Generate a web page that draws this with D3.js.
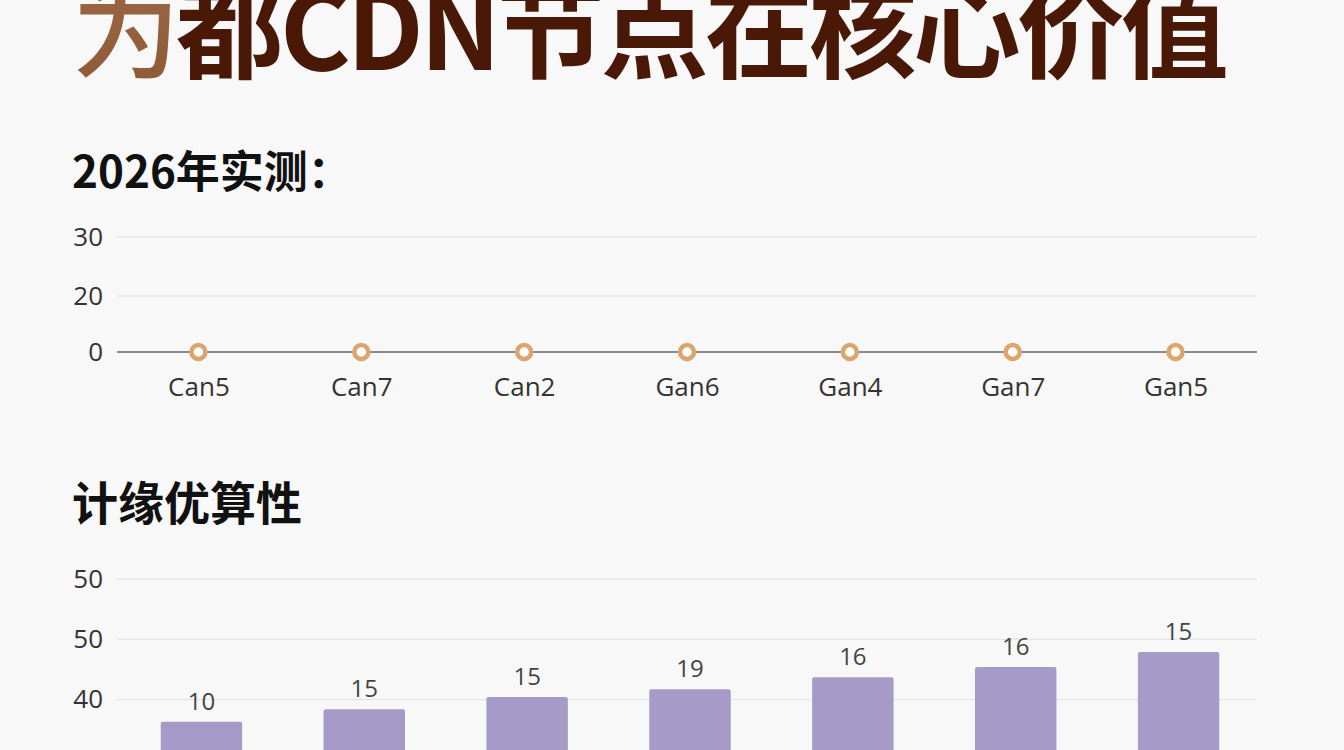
<!DOCTYPE html>
<html>
<head>
<meta charset="utf-8">
<script src="https://cdn.jsdelivr.net/npm/d3@7"></script>
<style>
  html, body { margin: 0; padding: 0; background: #f8f8f8; overflow: hidden; }
  svg { display: block; }
</style>
</head>
<body>
<div id="wrapper"></div>
<script>
// data
const titleHead = "为";
const titleRest = "都CDN节点在核心价值";
const lineTitle = "2026年实测：";
const barTitle = "计缘优算性";

const sites = ["Can5", "Can7", "Can2", "Gan6", "Gan4", "Gan7", "Gan5"];
const measured = [0, 0, 0, 0, 0, 0, 0];
const lineTicks = [0, 20, 30];

const barValues = [36.3, 38.4, 40.4, 41.7, 43.7, 45.4, 47.9];
const barLabels = ["10", "15", "15", "19", "16", "16", "15"];
const barTicks = [40, 50, 60];
const barTickLabels = ["40", "50", "50"];

const width = 1344, height = 750;
const left = 117, right = 1257;

const svg = d3.select("#wrapper").append("svg")
  .attr("width", width)
  .attr("height", height);

const defs = svg.append("defs");
const grad = defs.append("linearGradient").attr("id", "headGrad")
  .attr("x1", 0).attr("y1", 0).attr("x2", 1).attr("y2", 1);
grad.append("stop").attr("offset", "0%").attr("stop-color", "#a06a45");
grad.append("stop").attr("offset", "100%").attr("stop-color", "#7a4a2c");

// title
const title = svg.append("text")
  .attr("x", 72)
  .attr("y", 70)
  .attr("font-family", "'Noto Sans CJK SC', 'Noto Sans', sans-serif")
  .attr("font-size", 108)
  .attr("font-weight", 700)
  .attr("letter-spacing", -4);
title.append("tspan").attr("fill", "url(#headGrad)").attr("font-weight", 500).text(titleHead);
title.append("tspan").attr("fill", "#4a1806").text(titleRest);

const subFont = "'Noto Sans CJK SC', sans-serif";

svg.append("text")
  .attr("x", 72).attr("y", 188)
  .attr("font-family", subFont)
  .attr("font-size", 44)
  .attr("font-weight", 700)
  .attr("fill", "#111")
  .text(lineTitle);

svg.append("text")
  .attr("x", 72).attr("y", 520)
  .attr("font-family", subFont)
  .attr("font-size", 46)
  .attr("font-weight", 700)
  .attr("fill", "#111")
  .text(barTitle);

const labelFont = "'Open Sans', 'Noto Sans', sans-serif";

// line chart
const xScale = d3.scalePoint().domain(sites).range([left, right]).padding(0.5);
const yLine = d3.scaleLinear().domain([0, 20, 30]).range([352, 296, 237]);

const lineG = svg.append("g");

lineG.append("g")
  .selectAll("line")
  .data(lineTicks.filter(d => d !== 0))
  .join("line")
  .attr("x1", left).attr("x2", right)
  .attr("y1", d => yLine(d)).attr("y2", d => yLine(d))
  .attr("stroke", "#e6e6e6")
  .attr("stroke-width", 1.5);

lineG.append("line")
  .attr("x1", left).attr("x2", right)
  .attr("y1", yLine(0)).attr("y2", yLine(0))
  .attr("stroke", "#8a8a8a")
  .attr("stroke-width", 2);

const yAxisLine = d3.axisLeft(yLine).tickValues(lineTicks).tickSize(0).tickPadding(14);
lineG.append("g")
  .attr("transform", `translate(${left},0)`)
  .call(yAxisLine)
  .call(g => g.select(".domain").remove())
  .selectAll("text")
  .attr("font-family", labelFont)
  .attr("font-size", 26)
  .attr("fill", "#333");

const xAxisLine = d3.axisBottom(xScale).tickSize(0).tickPadding(26);
lineG.append("g")
  .attr("transform", `translate(0,${yLine(0)})`)
  .call(xAxisLine)
  .call(g => g.select(".domain").remove())
  .selectAll("text")
  .attr("font-family", labelFont)
  .attr("font-size", 26)
  .attr("fill", "#333");

const lineGenerator = d3.line()
  .x((d, i) => xScale(sites[i]))
  .y(d => yLine(d));

lineG.append("path")
  .attr("d", lineGenerator(measured))
  .attr("fill", "none")
  .attr("stroke", "#8a8a8a")
  .attr("stroke-width", 2);

lineG.append("g")
  .selectAll("circle")
  .data(measured)
  .join("circle")
  .attr("cx", (d, i) => xScale(sites[i]))
  .attr("cy", d => yLine(d))
  .attr("r", 7)
  .attr("fill", "#fff")
  .attr("stroke", "#dba56e")
  .attr("stroke-width", 4.5);

// bar chart
const xBand = d3.scaleBand().domain(sites).range([left + 3, right + 3]).paddingInner(0.5).paddingOuter(0.25);
const yBar = d3.scaleLinear().domain([40, 60]).range([699.5, 579]);

const barG = svg.append("g");

barG.append("g")
  .selectAll("line")
  .data(barTicks)
  .join("line")
  .attr("x1", left).attr("x2", right)
  .attr("y1", d => yBar(d)).attr("y2", d => yBar(d))
  .attr("stroke", "#e6e6e6")
  .attr("stroke-width", 1.5);

const yAxisBar = d3.axisLeft(yBar).tickValues(barTicks)
  .tickFormat((d, i) => barTickLabels[i]).tickSize(0).tickPadding(14);
barG.append("g")
  .attr("transform", `translate(${left},0)`)
  .call(yAxisBar)
  .call(g => g.select(".domain").remove())
  .selectAll("text")
  .attr("font-family", labelFont)
  .attr("font-size", 26)
  .attr("fill", "#333");

barG.append("g")
  .selectAll("rect")
  .data(barValues)
  .join("rect")
  .attr("x", (d, i) => xBand(sites[i]))
  .attr("width", xBand.bandwidth())
  .attr("y", d => yBar(d))
  .attr("height", d => yBar(0) - yBar(d))
  .attr("rx", 2)
  .attr("fill", "#a69bc8");

barG.append("g")
  .selectAll("text")
  .data(barValues)
  .join("text")
  .attr("x", (d, i) => xBand(sites[i]) + xBand.bandwidth() / 2)
  .attr("y", d => yBar(d) - 12)
  .attr("text-anchor", "middle")
  .attr("font-family", labelFont)
  .attr("font-size", 24)
  .attr("fill", "#444")
  .text((d, i) => barLabels[i]);
</script>
</body>
</html>
